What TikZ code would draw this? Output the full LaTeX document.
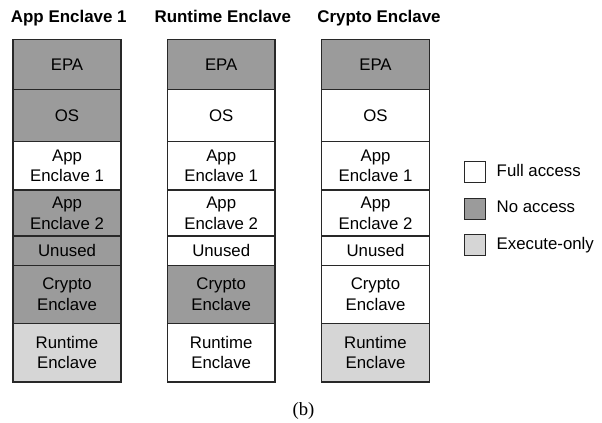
\documentclass[tikz,border=0pt]{standalone}
\usepackage{fontspec}
\setmainfont{Liberation Sans}
\newfontfamily\capfont{Liberation Serif}
\usetikzlibrary{positioning}

\definecolor{noaccgray}{RGB}{155,155,155}
\definecolor{execgray}{RGB}{214,214,214}
\definecolor{edgegray}{RGB}{40,40,40}

\tikzset{
  cell/.style={draw=edgegray, line width=1pt, minimum width=80.8pt, inner sep=0pt, align=center,
    font=\fontsize{12.6}{15.5}\selectfont},
  fullacc/.style={cell, fill=white},
  noacc/.style={cell, fill=noaccgray},
  execonly/.style={cell, fill=execgray},
  coltitle/.style={anchor=base, inner sep=0pt, font=\fontsize{12.7}{15}\selectfont\bfseries},
  legbox/.style={minimum width=15.75pt, minimum height=15.75pt},
  legtext/.style={right=7.5pt of #1, inner sep=0pt, text height=9pt, text depth=2.6pt,
    font=\fontsize{12.6}{15}\selectfont}
}

\begin{document}
\begin{tikzpicture}[x=0.75pt,y=0.75pt,yscale=-1,xscale=1]
\useasboundingbox (0,0) rectangle (602,423);

% Column titles
\node[coltitle] (tapp) at (68.8,22.5) {App Enclave 1};
\node[coltitle] (trun) at (222.8,22.5) {Runtime Enclave};
\node[coltitle] (tcry) at (379,22.5) {Crypto Enclave};

%Column: App Enclave 1
\node[noacc, minimum height=37.5pt] (aepa) at (67,64.3) {EPA};
\node[noacc, minimum height=39.3pt] (aos) at (67,115.5) {OS};
\node[fullacc, minimum height=36.2pt] (aapp1) at (67,165.85) {App\\Enclave 1};
\node[noacc, minimum height=34.5pt] (aapp2) at (67,213) {App\\Enclave 2};
\node[noacc, minimum height=22.3pt] (aunused) at (67,250.85) {Unused};
\node[noacc, minimum height=43.2pt] (acrypto) at (67,294.5) {Crypto\\Enclave};
\node[execonly, minimum height=44pt] (aruntime) at (67,352.65) {Runtime\\Enclave};

%Column: Runtime Enclave
\node[noacc, minimum height=37.5pt] (repa) at (221.2,64.3) {EPA};
\node[fullacc, minimum height=39.3pt] (ros) at (221.2,115.5) {OS};
\node[fullacc, minimum height=36.2pt] (rapp1) at (221.2,165.85) {App\\Enclave 1};
\node[fullacc, minimum height=34.5pt] (rapp2) at (221.2,213) {App\\Enclave 2};
\node[fullacc, minimum height=22.3pt] (runused) at (221.2,250.85) {Unused};
\node[noacc, minimum height=43.2pt] (rcrypto) at (221.2,294.5) {Crypto\\Enclave};
\node[fullacc, minimum height=44pt] (rruntime) at (221.2,352.65) {Runtime\\Enclave};

%Column: Crypto Enclave
\node[noacc, minimum height=37.5pt] (cepa) at (375.5,64.3) {EPA};
\node[fullacc, minimum height=39.3pt] (cos) at (375.5,115.5) {OS};
\node[fullacc, minimum height=36.2pt] (capp1) at (375.5,165.85) {App\\Enclave 1};
\node[fullacc, minimum height=34.5pt] (capp2) at (375.5,213) {App\\Enclave 2};
\node[fullacc, minimum height=22.3pt] (cunused) at (375.5,250.85) {Unused};
\node[fullacc, minimum height=43.2pt] (ccrypto) at (375.5,294.5) {Crypto\\Enclave};
\node[execonly, minimum height=44pt] (cruntime) at (375.5,352.65) {Runtime\\Enclave};

% Legend
\node[fullacc, legbox] (lfull) at (475.3,172.2) {};
\node[legtext=lfull] (lfulltext) {Full access};
\node[noacc, legbox] (lno) at (475.3,208.7) {};
\node[legtext=lno] (lnotext) {No access};
\node[execonly, legbox] (lexec) at (475.3,245) {};
\node[legtext=lexec] (lexectext) {Execute-only};

% Caption
\node[anchor=base, inner sep=0pt, font=\capfont\fontsize{14}{16}\selectfont] (cap) at (303.5,415) {(b)};

\end{tikzpicture}
\end{document}
